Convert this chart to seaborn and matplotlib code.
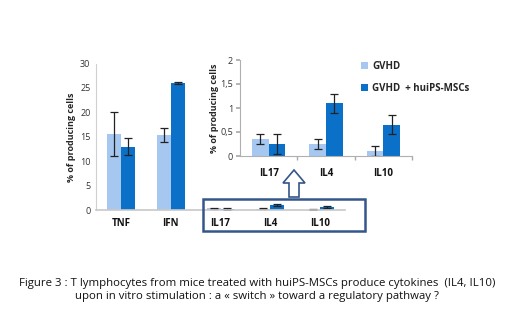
import numpy as np
import pandas as pd
import seaborn as sns
import matplotlib
matplotlib.use("Agg")
import matplotlib.pyplot as plt
from matplotlib.patches import Polygon, Rectangle, Patch

# ---- data ----
main_cats = ["TNF", "IFN", "IL17", "IL4", "IL10"]
gvhd_main = [15.5, 15.3, 0.35, 0.25, 0.10]
gvhd_main_err = [4.5, 1.4, 0.1, 0.1, 0.1]
msc_main = [13.0, 26.0, 0.25, 1.10, 0.65]
msc_main_err = [1.7, 0.3, 0.2, 0.2, 0.2]

inset_cats = ["IL17", "IL4", "IL10"]
gvhd_inset = [0.35, 0.25, 0.10]
gvhd_inset_err = [0.10, 0.10, 0.10]
msc_inset = [0.25, 1.10, 0.65]
msc_inset_err = [0.20, 0.20, 0.20]

groups = ["GVHD", "GVHD  + huiPS-MSCs"]
main_yticks = [0, 5, 10, 15, 20, 25, 30]
inset_yticks = [0, 0.5, 1, 1.5, 2]
inset_yticklabels = ["0", "0,5", "1", "1,5", "2"]
caption = ("Figure 3 : T lymphocytes from mice treated with huiPS-MSCs produce cytokines  (IL4, IL10)\n"
           "upon in vitro stimulation : a \u00ab switch \u00bb toward a regulatory pathway ?")

LIGHT = "#a6c8f0"
DARK = "#0a70c8"
FONT = ["Open Sans", "DejaVu Sans"]

sns.set_theme(style="white")
plt.rcParams["font.family"] = FONT

W, H = 520, 325
fig = plt.figure(figsize=(W / 100, H / 100), dpi=100)


def px(x0, y0, x1, y1):
    return [x0 / W, (H - y1) / H, (x1 - x0) / W, (y1 - y0) / H]


def make_df(cats, a, b):
    return pd.DataFrame({
        "cat": cats * 2,
        "val": list(a) + list(b),
        "grp": [groups[0]] * len(cats) + [groups[1]] * len(cats),
    })


def draw(ax, cats, a, ae, b, be, width):
    df = make_df(cats, a, b)
    sns.barplot(data=df, x="cat", y="val", hue="grp", order=cats,
                hue_order=groups, palette=[LIGHT, DARK], width=width,
                errorbar=None, ax=ax, legend=False, saturation=1,
                linewidth=0)
    n = len(cats)
    patches = [p for p in ax.patches][: 2 * n]
    errs = list(ae) + list(be)
    vals = list(a) + list(b)
    for p, v, e in zip(patches, vals, errs):
        xc = p.get_x() + p.get_width() / 2
        ax.errorbar(xc, v, yerr=e, fmt="none", ecolor="#222222",
                    elinewidth=0.9, capsize=2.8, capthick=0.9)


# ---- main axes ----
ax = fig.add_axes(px(96, 63.5, 345, 210))
draw(ax, main_cats, gvhd_main, gvhd_main_err, msc_main, msc_main_err, 0.56)
ax.set_ylim(0, 30)
ax.set_xlim(-0.5, len(main_cats) - 0.5)
ax.set_yticks(main_yticks)
ax.set_yticklabels([str(t) for t in main_yticks], fontsize=6.5, color="#333333")
ax.set_xticks(range(len(main_cats)))
ax.set_xticklabels(main_cats, fontsize=7, fontweight="bold", color="#111111")
ax.tick_params(axis="x", length=0, pad=6)
ax.tick_params(axis="y", length=0, pad=4)
for s in ["top", "right"]:
    ax.spines[s].set_visible(False)
ax.spines["left"].set_color("#d0d0d0")
ax.spines["bottom"].set_color("#c8c8c8")
ax.spines["left"].set_linewidth(0.8)
ax.spines["bottom"].set_linewidth(1.2)
ax.set_xlabel("")
ax.set_ylabel("% of producing cells", fontsize=6.5, fontweight="bold", labelpad=3)
ax.patch.set_alpha(0)

# ---- inset axes ----
ai = fig.add_axes(px(240, 60, 412, 156))
draw(ai, inset_cats, gvhd_inset, gvhd_inset_err, msc_inset, msc_inset_err, 0.58)
ai.set_ylim(0, 2)
ai.set_xlim(-0.5, len(inset_cats) - 0.5)
ai.set_yticks(inset_yticks)
ai.set_yticklabels(inset_yticklabels, fontsize=6.5, color="#333333")
ai.set_xticks(range(len(inset_cats)))
ai.set_xticklabels(inset_cats, fontsize=7, fontweight="bold", color="#111111")
ai.set_xticks([0.5, 1.5, 2.5], minor=True)
ai.tick_params(axis="x", which="major", length=0, pad=9)
ai.tick_params(axis="x", which="minor", length=3, color="#aaaaaa", bottom=True)
ai.tick_params(axis="y", length=3, color="#aaaaaa", left=True, pad=2)
for s in ["top", "right"]:
    ai.spines[s].set_visible(False)
ai.spines["left"].set_color("#b0b0b0")
ai.spines["bottom"].set_color("#b0b0b0")
ai.spines["left"].set_linewidth(0.8)
ai.spines["bottom"].set_linewidth(0.8)
ai.set_xlabel("")
ai.set_ylabel("% of producing cells", fontsize=6.5, fontweight="bold", labelpad=1)
ai.patch.set_alpha(0)

# legend
handles = [Patch(facecolor=LIGHT, edgecolor="none"), Patch(facecolor=DARK, edgecolor="none")]
fig.legend(handles, groups, loc="upper left", bbox_to_anchor=(352 / W, 1 - 52 / H),
           frameon=False, handlelength=0.7, handleheight=0.7, handletextpad=0.5,
           labelspacing=1.15, prop={"family": FONT, "weight": "bold", "size": 7})

# box around small categories
fig.add_artist(Rectangle((203 / W, (H - 231) / H), 162 / W, 32 / H,
                         transform=fig.transFigure, fill=False,
                         edgecolor="#34568a", linewidth=1.8))

# hollow up arrow (pixel coords -> inches)
cx, top, bot = 294, 170, 197
hw, sw, hl = 11, 5, 13
pts = [(cx - sw, bot), (cx + sw, bot), (cx + sw, top + hl), (cx + hw, top + hl),
       (cx, top), (cx - hw, top + hl), (cx - sw, top + hl)]
pts_in = [(x / 100, (H - y) / 100) for x, y in pts]
fig.add_artist(Polygon(pts_in, closed=True, transform=fig.dpi_scale_trans,
                       facecolor="white", edgecolor="#34568a", linewidth=1.2))

# caption
fig.text(257 / W, 1 - 290 / H, caption, ha="center", va="center",
         fontsize=8.2, linespacing=1.15, color="#111111")

fig.savefig("out.png", dpi=100)
